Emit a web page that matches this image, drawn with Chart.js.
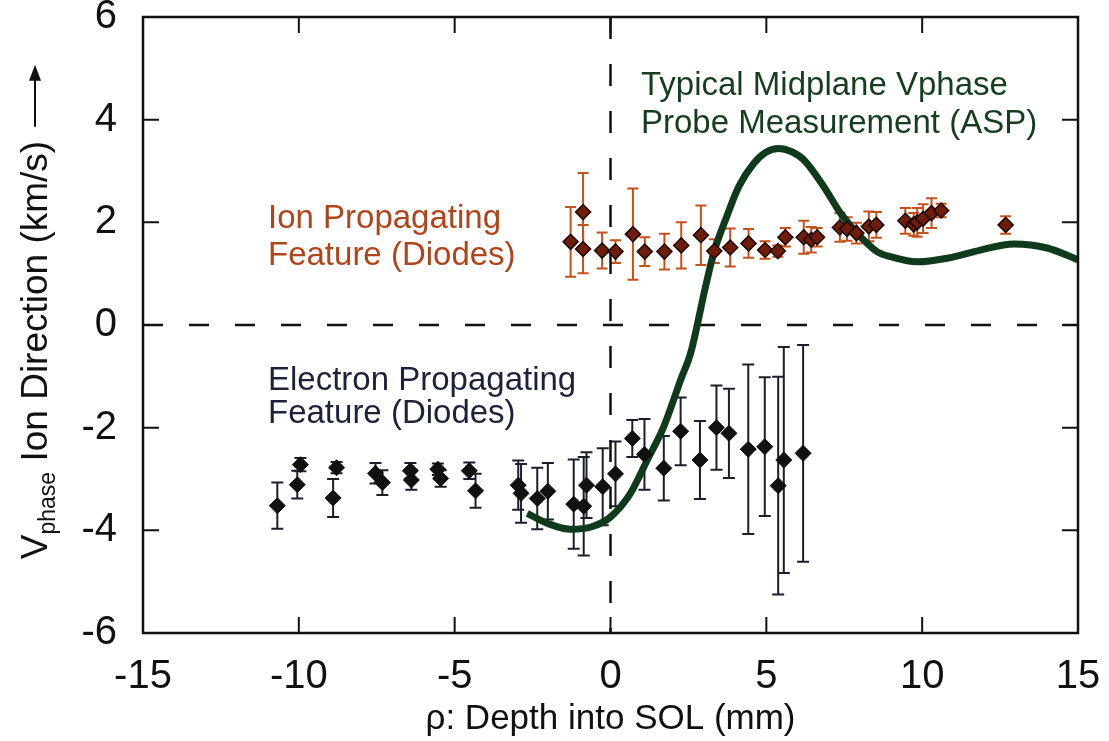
<!DOCTYPE html>
<html>
<head>
<meta charset="utf-8">
<script src="https://cdn.jsdelivr.net/npm/chart.js@4.4.1/dist/chart.umd.min.js"></script>
<style>
  html, body { margin:0; padding:0; background:#fff; }
</style>
</head>
<body>
<canvas id="chart" width="1109" height="741"></canvas>
<script>

// ion propagating feature (diodes)
var ionX   = [-1.28, -0.88, -0.88, -0.27, 0.16, 0.72, 1.10, 1.73, 2.27, 2.90, 3.33, 3.84, 4.43, 4.96, 5.37, 5.61, 6.20, 6.44, 6.63, 7.36, 7.59, 7.89, 8.29, 8.53, 9.46, 9.73, 9.84, 10.03, 10.30, 10.61, 12.68];
var ionY   = [1.62, 2.20, 1.48, 1.45, 1.43, 1.77, 1.43, 1.43, 1.55, 1.75, 1.44, 1.51, 1.59, 1.46, 1.44, 1.71, 1.71, 1.66, 1.71, 1.90, 1.87, 1.79, 1.92, 1.95, 2.03, 1.96, 2.00, 2.07, 2.18, 2.23, 1.95];
var ionErr = [0.68, 0.76, 0.47, 0.35, 0.22, 0.89, 0.28, 0.35, 0.45, 0.58, 0.23, 0.37, 0.28, 0.17, 0.11, 0.18, 0.32, 0.25, 0.18, 0.28, 0.23, 0.20, 0.29, 0.25, 0.25, 0.22, 0.28, 0.28, 0.29, 0.13, 0.17];

// electron propagating feature (diodes)
var eX   = [-10.69, -10.05, -9.95, -8.90, -8.79, -7.54, -7.32, -6.42, -6.39, -5.54, -5.45, -4.53, -4.33, -2.96, -2.87, -2.35, -2.01, -1.18, -0.86, -0.77, -0.25, 0.16, 0.70, 1.09, 1.71, 2.25, 2.87, 3.40, 3.80, 4.42, 4.95, 5.38, 5.56, 6.18];
var eY   = [-3.52, -3.11, -2.72, -3.37, -2.78, -2.89, -3.07, -2.84, -3.02, -2.81, -2.99, -2.84, -3.23, -3.12, -3.28, -3.38, -3.24, -3.49, -3.53, -3.12, -3.15, -2.90, -2.21, -2.52, -2.79, -2.07, -2.63, -2.00, -2.11, -2.42, -2.37, -3.13, -2.63, -2.50];
var eErr = [0.45, 0.27, 0.13, 0.37, 0.11, 0.20, 0.24, 0.15, 0.19, 0.11, 0.16, 0.16, 0.33, 0.48, 0.57, 0.60, 0.55, 0.87, 0.96, 0.64, 0.75, 0.63, 0.36, 0.69, 0.63, 0.66, 0.76, 0.82, 0.87, 1.65, 1.35, 2.12, 2.20, 2.11];

// typical midplane vphase probe measurement (ASP)
var aspX = [-2.67, -2.0, -1.28, -0.6, 0.0, 0.64, 1.18, 1.71, 2.25, 2.57, 3.05, 3.31, 3.69, 4.12, 4.60, 5.0, 5.40, 5.8, 6.20, 6.84, 7.38, 7.91, 8.55, 8.98, 9.84, 10.80, 11.87, 12.94, 14.01, 15.0];
var aspY = [-3.67, -3.87, -3.98, -3.93, -3.74, -3.28, -2.63, -1.98, -1.07, -0.55, 0.75, 1.40, 2.05, 2.70, 3.15, 3.37, 3.44, 3.38, 3.22, 2.70, 2.18, 1.79, 1.43, 1.33, 1.23, 1.30, 1.46, 1.58, 1.50, 1.27];

var xTicks = [-15, -10, -5, 0, 5, 10, 15];
var yTicks = [-6, -4, -2, 0, 2, 4, 6];

var FONT = "'Liberation Sans', Arial, Helvetica, sans-serif";

function pts(xs, ys) {
  return xs.map(function(x, i) { return {x: x, y: ys[i]}; });
}

// error bars drawn behind everything else
var errorBars = {
  id: 'errorBars',
  beforeDatasetsDraw: function(chart) {
    var ctx = chart.ctx, xs = chart.scales.x, ys = chart.scales.y;
    chart.data.datasets.forEach(function(ds) {
      if (!ds.errors) return;
      ctx.save();
      ctx.strokeStyle = ds.errColor;
      ctx.lineWidth = 2;
      ds.data.forEach(function(p, i) {
        var px = xs.getPixelForValue(p.x);
        var t = ys.getPixelForValue(p.y + ds.errors[i]);
        var b = ys.getPixelForValue(p.y - ds.errors[i]);
        var c = ds.capHalf;
        ctx.beginPath();
        ctx.moveTo(px, t); ctx.lineTo(px, b);
        ctx.moveTo(px - c, t); ctx.lineTo(px + c, t);
        ctx.moveTo(px - c, b); ctx.lineTo(px + c, b);
        ctx.stroke();
      });
      ctx.restore();
    });
  }
};

// box around the plot and inward ticks on all sides
var frame = {
  id: 'frame',
  afterDraw: function(chart) {
    var ctx = chart.ctx, a = chart.chartArea;
    var xs = chart.scales.x, ys = chart.scales.y;
    var len = 16;
    ctx.save();
    ctx.strokeStyle = '#111';
    ctx.lineWidth = 2.5;
    ctx.strokeRect(a.left, a.top, a.right - a.left, a.bottom - a.top);
    ctx.lineWidth = 2;
    ctx.beginPath();
    xTicks.slice(1, -1).forEach(function(v) {
      var px = xs.getPixelForValue(v);
      ctx.moveTo(px, a.bottom); ctx.lineTo(px, a.bottom - len);
      ctx.moveTo(px, a.top); ctx.lineTo(px, a.top + len);
    });
    yTicks.slice(1, -1).forEach(function(v) {
      var py = ys.getPixelForValue(v);
      ctx.moveTo(a.left, py); ctx.lineTo(a.left + len, py);
      ctx.moveTo(a.right, py); ctx.lineTo(a.right - len, py);
    });
    ctx.stroke();
    ctx.restore();
  }
};

// y title with subscript, plus the text labels in the plot
var labels = {
  id: 'labels',
  afterDraw: function(chart) {
    var ctx = chart.ctx;
    ctx.save();
    ctx.fillStyle = '#111';
    ctx.textBaseline = 'alphabetic';
    ctx.translate(47, 312);
    ctx.rotate(-Math.PI / 2);
    var big = '37px ' + FONT, small = '23px ' + FONT;
    ctx.font = big;
    var w1 = ctx.measureText('V').width;
    var w3 = ctx.measureText(' Ion Direction (km/s)').width;
    ctx.font = small;
    var w2 = ctx.measureText('phase').width;
    var arrow = 62;
    var total = w1 + w2 + w3 + 14 + arrow;
    var x0 = -total / 2;
    ctx.font = big;
    ctx.fillText('V', x0, 0);
    ctx.font = small;
    ctx.fillText('phase', x0 + w1, 8);
    ctx.font = big;
    ctx.fillText(' Ion Direction (km/s)', x0 + w1 + w2, 0);
    var ax = x0 + w1 + w2 + w3 + 14;
    ctx.strokeStyle = '#111';
    ctx.lineWidth = 2;
    ctx.beginPath();
    ctx.moveTo(ax, -12); ctx.lineTo(ax + arrow - 4, -12);
    ctx.stroke();
    ctx.beginPath();
    ctx.moveTo(ax + arrow, -12); ctx.lineTo(ax + arrow - 16, -18); ctx.lineTo(ax + arrow - 16, -6);
    ctx.closePath(); ctx.fill();
    ctx.restore();

    ctx.save();
    ctx.font = '33px ' + FONT;
    ctx.textBaseline = 'alphabetic';
    ctx.fillStyle = '#163d20';
    ctx.fillText('Typical Midplane Vphase', 641, 95);
    ctx.fillText('Probe Measurement (ASP)', 641, 133);
    ctx.fillStyle = '#b0441b';
    ctx.fillText('Ion Propagating', 268, 228);
    ctx.fillText('Feature (Diodes)', 268, 265);
    ctx.fillStyle = '#1d2238';
    ctx.fillText('Electron Propagating', 268, 390);
    ctx.fillText('Feature (Diodes)', 268, 423);
    ctx.restore();
  }
};

var chart = new Chart(document.getElementById('chart'), {
  type: 'scatter',
  data: {
    datasets: [
      {
        label: 'Ion Propagating Feature (Diodes)',
        data: pts(ionX, ionY),
        errors: ionErr,
        errColor: '#c4521f',
        capHalf: 5.5,
        pointStyle: 'rectRot',
        pointRadius: 7.5,
        backgroundColor: '#6e1c0c',
        borderColor: '#1e0904',
        borderWidth: 1.5,
        order: 1
      },
      {
        label: 'Electron Propagating Feature (Diodes)',
        data: pts(eX, eY),
        errors: eErr,
        errColor: '#1b1f2c',
        capHalf: 6,
        pointStyle: 'rectRot',
        pointRadius: 8,
        backgroundColor: '#111',
        borderColor: '#111',
        borderWidth: 1,
        order: 2
      },
      {
        label: 'ASP',
        type: 'line',
        data: pts(aspX, aspY),
        borderColor: '#103a1c',
        borderWidth: 7,
        pointRadius: 0,
        cubicInterpolationMode: 'monotone',
        fill: false,
        order: 3
      },
      {
        label: 'zero y',
        type: 'line',
        data: [{x: -15, y: 0}, {x: 15, y: 0}],
        borderColor: '#111',
        borderWidth: 2.5,
        borderDash: [20, 26],
        pointRadius: 0,
        fill: false,
        order: 4
      },
      {
        label: 'zero x',
        type: 'line',
        data: [{x: 0, y: 6}, {x: 0, y: -6}],
        borderColor: '#111',
        borderWidth: 2.5,
        borderDash: [22, 25],
        pointRadius: 0,
        fill: false,
        order: 4
      }
    ]
  },
  options: {
    responsive: false,
    animation: false,
    layout: { padding: { top: 17, right: 31, left: 0, bottom: 0 } },
    plugins: { legend: { display: false }, tooltip: { enabled: false } },
    scales: {
      x: {
        type: 'linear',
        min: -15, max: 15,
        afterBuildTicks: function(s) { s.ticks = xTicks.map(function(v) { return {value: v}; }); },
        ticks: { font: { size: 40, family: FONT }, color: '#111', padding: 12, maxRotation: 0, autoSkip: false },
        grid: { display: false },
        border: { display: false },
        title: { display: true, text: 'ρ: Depth into SOL (mm)', font: { size: 35, family: FONT }, color: '#111', padding: { top: 0, bottom: 1 } },
        afterFit: function(s) { s.height = 108; s.paddingLeft = 0; s.paddingRight = 0; }
      },
      y: {
        type: 'linear',
        min: -6, max: 6,
        afterBuildTicks: function(s) { s.ticks = yTicks.map(function(v) { return {value: v}; }); },
        ticks: { font: { size: 40, family: FONT }, color: '#111', padding: 18, autoSkip: false },
        grid: { display: false },
        border: { display: false },
        afterFit: function(s) { s.width = 143; s.paddingTop = 0; s.paddingBottom = 0; }
      }
    }
  },
  plugins: [errorBars, frame, labels]
});

</script>
</body>
</html>
